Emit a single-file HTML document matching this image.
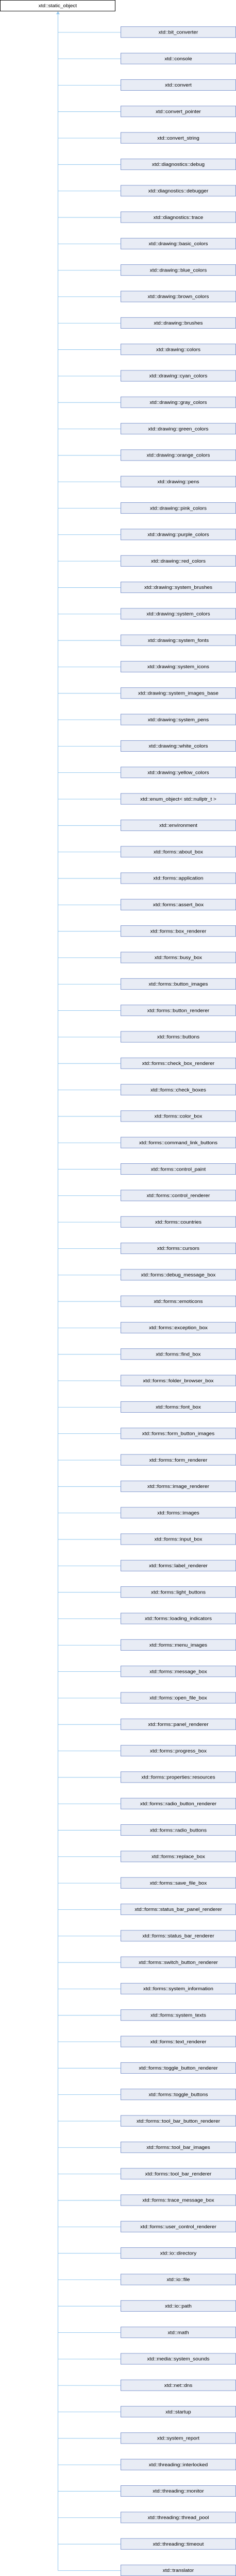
<!DOCTYPE html>
<html><head><meta charset="utf-8"><style>
html,body{margin:0;padding:0;background:#fff;overflow:hidden;}
svg{position:fixed;left:0;top:0;width:100vw;height:100vh;display:block;}
svg text{font-family:"Liberation Sans",Arial,sans-serif;font-size:10px;text-anchor:middle;fill:#000;}
svg path.c{stroke:#8ec5ee;stroke-width:1;fill:none;}
svg rect.b{fill:#e8ecf5;stroke:#7b93cc;stroke-width:1;}
</style></head><body>
<svg viewBox="0 0 458 5456" preserveAspectRatio="none" xmlns="http://www.w3.org/2000/svg">
<rect x="0.5" y="0.5" width="223" height="23" fill="#fff" stroke="#000"/>
<text x="112" y="15.5">xtd::static_object</text>
<path class="c" d="M112.5 29V5444.5"/>
<polygon points="112.5,24 109,30 116,30" fill="#8ec5ee"/>
<g transform="translate(0,56)"><path class="c" d="M112.5 12.5H234"/><rect class="b" x="234.5" y="0.5" width="223" height="23"/><text x="346" y="15.5">xtd::bit_converter</text></g>
<g transform="translate(0,112)"><path class="c" d="M112.5 12.5H234"/><rect class="b" x="234.5" y="0.5" width="223" height="23"/><text x="346" y="15.5">xtd::console</text></g>
<g transform="translate(0,168)"><path class="c" d="M112.5 12.5H234"/><rect class="b" x="234.5" y="0.5" width="223" height="23"/><text x="346" y="15.5">xtd::convert</text></g>
<g transform="translate(0,224)"><path class="c" d="M112.5 12.5H234"/><rect class="b" x="234.5" y="0.5" width="223" height="23"/><text x="346" y="15.5">xtd::convert_pointer</text></g>
<g transform="translate(0,280)"><path class="c" d="M112.5 12.5H234"/><rect class="b" x="234.5" y="0.5" width="223" height="23"/><text x="346" y="15.5">xtd::convert_string</text></g>
<g transform="translate(0,336)"><path class="c" d="M112.5 12.5H234"/><rect class="b" x="234.5" y="0.5" width="223" height="23"/><text x="346" y="15.5">xtd::diagnostics::debug</text></g>
<g transform="translate(0,392)"><path class="c" d="M112.5 12.5H234"/><rect class="b" x="234.5" y="0.5" width="223" height="23"/><text x="346" y="15.5">xtd::diagnostics::debugger</text></g>
<g transform="translate(0,448)"><path class="c" d="M112.5 12.5H234"/><rect class="b" x="234.5" y="0.5" width="223" height="23"/><text x="346" y="15.5">xtd::diagnostics::trace</text></g>
<g transform="translate(0,504)"><path class="c" d="M112.5 12.5H234"/><rect class="b" x="234.5" y="0.5" width="223" height="23"/><text x="346" y="15.5">xtd::drawing::basic_colors</text></g>
<g transform="translate(0,560)"><path class="c" d="M112.5 12.5H234"/><rect class="b" x="234.5" y="0.5" width="223" height="23"/><text x="346" y="15.5">xtd::drawing::blue_colors</text></g>
<g transform="translate(0,616)"><path class="c" d="M112.5 12.5H234"/><rect class="b" x="234.5" y="0.5" width="223" height="23"/><text x="346" y="15.5">xtd::drawing::brown_colors</text></g>
<g transform="translate(0,672)"><path class="c" d="M112.5 12.5H234"/><rect class="b" x="234.5" y="0.5" width="223" height="23"/><text x="346" y="15.5">xtd::drawing::brushes</text></g>
<g transform="translate(0,728)"><path class="c" d="M112.5 12.5H234"/><rect class="b" x="234.5" y="0.5" width="223" height="23"/><text x="346" y="15.5">xtd::drawing::colors</text></g>
<g transform="translate(0,784)"><path class="c" d="M112.5 12.5H234"/><rect class="b" x="234.5" y="0.5" width="223" height="23"/><text x="346" y="15.5">xtd::drawing::cyan_colors</text></g>
<g transform="translate(0,840)"><path class="c" d="M112.5 12.5H234"/><rect class="b" x="234.5" y="0.5" width="223" height="23"/><text x="346" y="15.5">xtd::drawing::gray_colors</text></g>
<g transform="translate(0,896)"><path class="c" d="M112.5 12.5H234"/><rect class="b" x="234.5" y="0.5" width="223" height="23"/><text x="346" y="15.5">xtd::drawing::green_colors</text></g>
<g transform="translate(0,952)"><path class="c" d="M112.5 12.5H234"/><rect class="b" x="234.5" y="0.5" width="223" height="23"/><text x="346" y="15.5">xtd::drawing::orange_colors</text></g>
<g transform="translate(0,1008)"><path class="c" d="M112.5 12.5H234"/><rect class="b" x="234.5" y="0.5" width="223" height="23"/><text x="346" y="15.5">xtd::drawing::pens</text></g>
<g transform="translate(0,1064)"><path class="c" d="M112.5 12.5H234"/><rect class="b" x="234.5" y="0.5" width="223" height="23"/><text x="346" y="15.5">xtd::drawing::pink_colors</text></g>
<g transform="translate(0,1120)"><path class="c" d="M112.5 12.5H234"/><rect class="b" x="234.5" y="0.5" width="223" height="23"/><text x="346" y="15.5">xtd::drawing::purple_colors</text></g>
<g transform="translate(0,1176)"><path class="c" d="M112.5 12.5H234"/><rect class="b" x="234.5" y="0.5" width="223" height="23"/><text x="346" y="15.5">xtd::drawing::red_colors</text></g>
<g transform="translate(0,1232)"><path class="c" d="M112.5 12.5H234"/><rect class="b" x="234.5" y="0.5" width="223" height="23"/><text x="346" y="15.5">xtd::drawing::system_brushes</text></g>
<g transform="translate(0,1288)"><path class="c" d="M112.5 12.5H234"/><rect class="b" x="234.5" y="0.5" width="223" height="23"/><text x="346" y="15.5">xtd::drawing::system_colors</text></g>
<g transform="translate(0,1344)"><path class="c" d="M112.5 12.5H234"/><rect class="b" x="234.5" y="0.5" width="223" height="23"/><text x="346" y="15.5">xtd::drawing::system_fonts</text></g>
<g transform="translate(0,1400)"><path class="c" d="M112.5 12.5H234"/><rect class="b" x="234.5" y="0.5" width="223" height="23"/><text x="346" y="15.5">xtd::drawing::system_icons</text></g>
<g transform="translate(0,1456)"><path class="c" d="M112.5 12.5H234"/><rect class="b" x="234.5" y="0.5" width="223" height="23"/><text x="346" y="15.5">xtd::drawing::system_images_base</text></g>
<g transform="translate(0,1512)"><path class="c" d="M112.5 12.5H234"/><rect class="b" x="234.5" y="0.5" width="223" height="23"/><text x="346" y="15.5">xtd::drawing::system_pens</text></g>
<g transform="translate(0,1568)"><path class="c" d="M112.5 12.5H234"/><rect class="b" x="234.5" y="0.5" width="223" height="23"/><text x="346" y="15.5">xtd::drawing::white_colors</text></g>
<g transform="translate(0,1624)"><path class="c" d="M112.5 12.5H234"/><rect class="b" x="234.5" y="0.5" width="223" height="23"/><text x="346" y="15.5">xtd::drawing::yellow_colors</text></g>
<g transform="translate(0,1680)"><path class="c" d="M112.5 12.5H234"/><rect class="b" x="234.5" y="0.5" width="223" height="23"/><text x="346" y="15.5">xtd::enum_object&lt; std::nullptr_t &gt;</text></g>
<g transform="translate(0,1736)"><path class="c" d="M112.5 12.5H234"/><rect class="b" x="234.5" y="0.5" width="223" height="23"/><text x="346" y="15.5">xtd::environment</text></g>
<g transform="translate(0,1792)"><path class="c" d="M112.5 12.5H234"/><rect class="b" x="234.5" y="0.5" width="223" height="23"/><text x="346" y="15.5">xtd::forms::about_box</text></g>
<g transform="translate(0,1848)"><path class="c" d="M112.5 12.5H234"/><rect class="b" x="234.5" y="0.5" width="223" height="23"/><text x="346" y="15.5">xtd::forms::application</text></g>
<g transform="translate(0,1904)"><path class="c" d="M112.5 12.5H234"/><rect class="b" x="234.5" y="0.5" width="223" height="23"/><text x="346" y="15.5">xtd::forms::assert_box</text></g>
<g transform="translate(0,1960)"><path class="c" d="M112.5 12.5H234"/><rect class="b" x="234.5" y="0.5" width="223" height="23"/><text x="346" y="15.5">xtd::forms::box_renderer</text></g>
<g transform="translate(0,2016)"><path class="c" d="M112.5 12.5H234"/><rect class="b" x="234.5" y="0.5" width="223" height="23"/><text x="346" y="15.5">xtd::forms::busy_box</text></g>
<g transform="translate(0,2072)"><path class="c" d="M112.5 12.5H234"/><rect class="b" x="234.5" y="0.5" width="223" height="23"/><text x="346" y="15.5">xtd::forms::button_images</text></g>
<g transform="translate(0,2128)"><path class="c" d="M112.5 12.5H234"/><rect class="b" x="234.5" y="0.5" width="223" height="23"/><text x="346" y="15.5">xtd::forms::button_renderer</text></g>
<g transform="translate(0,2184)"><path class="c" d="M112.5 12.5H234"/><rect class="b" x="234.5" y="0.5" width="223" height="23"/><text x="346" y="15.5">xtd::forms::buttons</text></g>
<g transform="translate(0,2240)"><path class="c" d="M112.5 12.5H234"/><rect class="b" x="234.5" y="0.5" width="223" height="23"/><text x="346" y="15.5">xtd::forms::check_box_renderer</text></g>
<g transform="translate(0,2296)"><path class="c" d="M112.5 12.5H234"/><rect class="b" x="234.5" y="0.5" width="223" height="23"/><text x="346" y="15.5">xtd::forms::check_boxes</text></g>
<g transform="translate(0,2352)"><path class="c" d="M112.5 12.5H234"/><rect class="b" x="234.5" y="0.5" width="223" height="23"/><text x="346" y="15.5">xtd::forms::color_box</text></g>
<g transform="translate(0,2408)"><path class="c" d="M112.5 12.5H234"/><rect class="b" x="234.5" y="0.5" width="223" height="23"/><text x="346" y="15.5">xtd::forms::command_link_buttons</text></g>
<g transform="translate(0,2464)"><path class="c" d="M112.5 12.5H234"/><rect class="b" x="234.5" y="0.5" width="223" height="23"/><text x="346" y="15.5">xtd::forms::control_paint</text></g>
<g transform="translate(0,2520)"><path class="c" d="M112.5 12.5H234"/><rect class="b" x="234.5" y="0.5" width="223" height="23"/><text x="346" y="15.5">xtd::forms::control_renderer</text></g>
<g transform="translate(0,2576)"><path class="c" d="M112.5 12.5H234"/><rect class="b" x="234.5" y="0.5" width="223" height="23"/><text x="346" y="15.5">xtd::forms::countries</text></g>
<g transform="translate(0,2632)"><path class="c" d="M112.5 12.5H234"/><rect class="b" x="234.5" y="0.5" width="223" height="23"/><text x="346" y="15.5">xtd::forms::cursors</text></g>
<g transform="translate(0,2688)"><path class="c" d="M112.5 12.5H234"/><rect class="b" x="234.5" y="0.5" width="223" height="23"/><text x="346" y="15.5">xtd::forms::debug_message_box</text></g>
<g transform="translate(0,2744)"><path class="c" d="M112.5 12.5H234"/><rect class="b" x="234.5" y="0.5" width="223" height="23"/><text x="346" y="15.5">xtd::forms::emoticons</text></g>
<g transform="translate(0,2800)"><path class="c" d="M112.5 12.5H234"/><rect class="b" x="234.5" y="0.5" width="223" height="23"/><text x="346" y="15.5">xtd::forms::exception_box</text></g>
<g transform="translate(0,2856)"><path class="c" d="M112.5 12.5H234"/><rect class="b" x="234.5" y="0.5" width="223" height="23"/><text x="346" y="15.5">xtd::forms::find_box</text></g>
<g transform="translate(0,2912)"><path class="c" d="M112.5 12.5H234"/><rect class="b" x="234.5" y="0.5" width="223" height="23"/><text x="346" y="15.5">xtd::forms::folder_browser_box</text></g>
<g transform="translate(0,2968)"><path class="c" d="M112.5 12.5H234"/><rect class="b" x="234.5" y="0.5" width="223" height="23"/><text x="346" y="15.5">xtd::forms::font_box</text></g>
<g transform="translate(0,3024)"><path class="c" d="M112.5 12.5H234"/><rect class="b" x="234.5" y="0.5" width="223" height="23"/><text x="346" y="15.5">xtd::forms::form_button_images</text></g>
<g transform="translate(0,3080)"><path class="c" d="M112.5 12.5H234"/><rect class="b" x="234.5" y="0.5" width="223" height="23"/><text x="346" y="15.5">xtd::forms::form_renderer</text></g>
<g transform="translate(0,3136)"><path class="c" d="M112.5 12.5H234"/><rect class="b" x="234.5" y="0.5" width="223" height="23"/><text x="346" y="15.5">xtd::forms::image_renderer</text></g>
<g transform="translate(0,3192)"><path class="c" d="M112.5 12.5H234"/><rect class="b" x="234.5" y="0.5" width="223" height="23"/><text x="346" y="15.5">xtd::forms::images</text></g>
<g transform="translate(0,3248)"><path class="c" d="M112.5 12.5H234"/><rect class="b" x="234.5" y="0.5" width="223" height="23"/><text x="346" y="15.5">xtd::forms::input_box</text></g>
<g transform="translate(0,3304)"><path class="c" d="M112.5 12.5H234"/><rect class="b" x="234.5" y="0.5" width="223" height="23"/><text x="346" y="15.5">xtd::forms::label_renderer</text></g>
<g transform="translate(0,3360)"><path class="c" d="M112.5 12.5H234"/><rect class="b" x="234.5" y="0.5" width="223" height="23"/><text x="346" y="15.5">xtd::forms::light_buttons</text></g>
<g transform="translate(0,3416)"><path class="c" d="M112.5 12.5H234"/><rect class="b" x="234.5" y="0.5" width="223" height="23"/><text x="346" y="15.5">xtd::forms::loading_indicators</text></g>
<g transform="translate(0,3472)"><path class="c" d="M112.5 12.5H234"/><rect class="b" x="234.5" y="0.5" width="223" height="23"/><text x="346" y="15.5">xtd::forms::menu_images</text></g>
<g transform="translate(0,3528)"><path class="c" d="M112.5 12.5H234"/><rect class="b" x="234.5" y="0.5" width="223" height="23"/><text x="346" y="15.5">xtd::forms::message_box</text></g>
<g transform="translate(0,3584)"><path class="c" d="M112.5 12.5H234"/><rect class="b" x="234.5" y="0.5" width="223" height="23"/><text x="346" y="15.5">xtd::forms::open_file_box</text></g>
<g transform="translate(0,3640)"><path class="c" d="M112.5 12.5H234"/><rect class="b" x="234.5" y="0.5" width="223" height="23"/><text x="346" y="15.5">xtd::forms::panel_renderer</text></g>
<g transform="translate(0,3696)"><path class="c" d="M112.5 12.5H234"/><rect class="b" x="234.5" y="0.5" width="223" height="23"/><text x="346" y="15.5">xtd::forms::progress_box</text></g>
<g transform="translate(0,3752)"><path class="c" d="M112.5 12.5H234"/><rect class="b" x="234.5" y="0.5" width="223" height="23"/><text x="346" y="15.5">xtd::forms::properties::resources</text></g>
<g transform="translate(0,3808)"><path class="c" d="M112.5 12.5H234"/><rect class="b" x="234.5" y="0.5" width="223" height="23"/><text x="346" y="15.5">xtd::forms::radio_button_renderer</text></g>
<g transform="translate(0,3864)"><path class="c" d="M112.5 12.5H234"/><rect class="b" x="234.5" y="0.5" width="223" height="23"/><text x="346" y="15.5">xtd::forms::radio_buttons</text></g>
<g transform="translate(0,3920)"><path class="c" d="M112.5 12.5H234"/><rect class="b" x="234.5" y="0.5" width="223" height="23"/><text x="346" y="15.5">xtd::forms::replace_box</text></g>
<g transform="translate(0,3976)"><path class="c" d="M112.5 12.5H234"/><rect class="b" x="234.5" y="0.5" width="223" height="23"/><text x="346" y="15.5">xtd::forms::save_file_box</text></g>
<g transform="translate(0,4032)"><path class="c" d="M112.5 12.5H234"/><rect class="b" x="234.5" y="0.5" width="223" height="23"/><text x="346" y="15.5">xtd::forms::status_bar_panel_renderer</text></g>
<g transform="translate(0,4088)"><path class="c" d="M112.5 12.5H234"/><rect class="b" x="234.5" y="0.5" width="223" height="23"/><text x="346" y="15.5">xtd::forms::status_bar_renderer</text></g>
<g transform="translate(0,4144)"><path class="c" d="M112.5 12.5H234"/><rect class="b" x="234.5" y="0.5" width="223" height="23"/><text x="346" y="15.5">xtd::forms::switch_button_renderer</text></g>
<g transform="translate(0,4200)"><path class="c" d="M112.5 12.5H234"/><rect class="b" x="234.5" y="0.5" width="223" height="23"/><text x="346" y="15.5">xtd::forms::system_information</text></g>
<g transform="translate(0,4256)"><path class="c" d="M112.5 12.5H234"/><rect class="b" x="234.5" y="0.5" width="223" height="23"/><text x="346" y="15.5">xtd::forms::system_texts</text></g>
<g transform="translate(0,4312)"><path class="c" d="M112.5 12.5H234"/><rect class="b" x="234.5" y="0.5" width="223" height="23"/><text x="346" y="15.5">xtd::forms::text_renderer</text></g>
<g transform="translate(0,4368)"><path class="c" d="M112.5 12.5H234"/><rect class="b" x="234.5" y="0.5" width="223" height="23"/><text x="346" y="15.5">xtd::forms::toggle_button_renderer</text></g>
<g transform="translate(0,4424)"><path class="c" d="M112.5 12.5H234"/><rect class="b" x="234.5" y="0.5" width="223" height="23"/><text x="346" y="15.5">xtd::forms::toggle_buttons</text></g>
<g transform="translate(0,4480)"><path class="c" d="M112.5 12.5H234"/><rect class="b" x="234.5" y="0.5" width="223" height="23"/><text x="346" y="15.5">xtd::forms::tool_bar_button_renderer</text></g>
<g transform="translate(0,4536)"><path class="c" d="M112.5 12.5H234"/><rect class="b" x="234.5" y="0.5" width="223" height="23"/><text x="346" y="15.5">xtd::forms::tool_bar_images</text></g>
<g transform="translate(0,4592)"><path class="c" d="M112.5 12.5H234"/><rect class="b" x="234.5" y="0.5" width="223" height="23"/><text x="346" y="15.5">xtd::forms::tool_bar_renderer</text></g>
<g transform="translate(0,4648)"><path class="c" d="M112.5 12.5H234"/><rect class="b" x="234.5" y="0.5" width="223" height="23"/><text x="346" y="15.5">xtd::forms::trace_message_box</text></g>
<g transform="translate(0,4704)"><path class="c" d="M112.5 12.5H234"/><rect class="b" x="234.5" y="0.5" width="223" height="23"/><text x="346" y="15.5">xtd::forms::user_control_renderer</text></g>
<g transform="translate(0,4760)"><path class="c" d="M112.5 12.5H234"/><rect class="b" x="234.5" y="0.5" width="223" height="23"/><text x="346" y="15.5">xtd::io::directory</text></g>
<g transform="translate(0,4816)"><path class="c" d="M112.5 12.5H234"/><rect class="b" x="234.5" y="0.5" width="223" height="23"/><text x="346" y="15.5">xtd::io::file</text></g>
<g transform="translate(0,4872)"><path class="c" d="M112.5 12.5H234"/><rect class="b" x="234.5" y="0.5" width="223" height="23"/><text x="346" y="15.5">xtd::io::path</text></g>
<g transform="translate(0,4928)"><path class="c" d="M112.5 12.5H234"/><rect class="b" x="234.5" y="0.5" width="223" height="23"/><text x="346" y="15.5">xtd::math</text></g>
<g transform="translate(0,4984)"><path class="c" d="M112.5 12.5H234"/><rect class="b" x="234.5" y="0.5" width="223" height="23"/><text x="346" y="15.5">xtd::media::system_sounds</text></g>
<g transform="translate(0,5040)"><path class="c" d="M112.5 12.5H234"/><rect class="b" x="234.5" y="0.5" width="223" height="23"/><text x="346" y="15.5">xtd::net::dns</text></g>
<g transform="translate(0,5096)"><path class="c" d="M112.5 12.5H234"/><rect class="b" x="234.5" y="0.5" width="223" height="23"/><text x="346" y="15.5">xtd::startup</text></g>
<g transform="translate(0,5152)"><path class="c" d="M112.5 12.5H234"/><rect class="b" x="234.5" y="0.5" width="223" height="23"/><text x="346" y="15.5">xtd::system_report</text></g>
<g transform="translate(0,5208)"><path class="c" d="M112.5 12.5H234"/><rect class="b" x="234.5" y="0.5" width="223" height="23"/><text x="346" y="15.5">xtd::threading::interlocked</text></g>
<g transform="translate(0,5264)"><path class="c" d="M112.5 12.5H234"/><rect class="b" x="234.5" y="0.5" width="223" height="23"/><text x="346" y="15.5">xtd::threading::monitor</text></g>
<g transform="translate(0,5320)"><path class="c" d="M112.5 12.5H234"/><rect class="b" x="234.5" y="0.5" width="223" height="23"/><text x="346" y="15.5">xtd::threading::thread_pool</text></g>
<g transform="translate(0,5376)"><path class="c" d="M112.5 12.5H234"/><rect class="b" x="234.5" y="0.5" width="223" height="23"/><text x="346" y="15.5">xtd::threading::timeout</text></g>
<g transform="translate(0,5432)"><path class="c" d="M112.5 12.5H234"/><rect class="b" x="234.5" y="0.5" width="223" height="23"/><text x="346" y="15.5">xtd::translator</text></g>
</svg>
</body></html>
